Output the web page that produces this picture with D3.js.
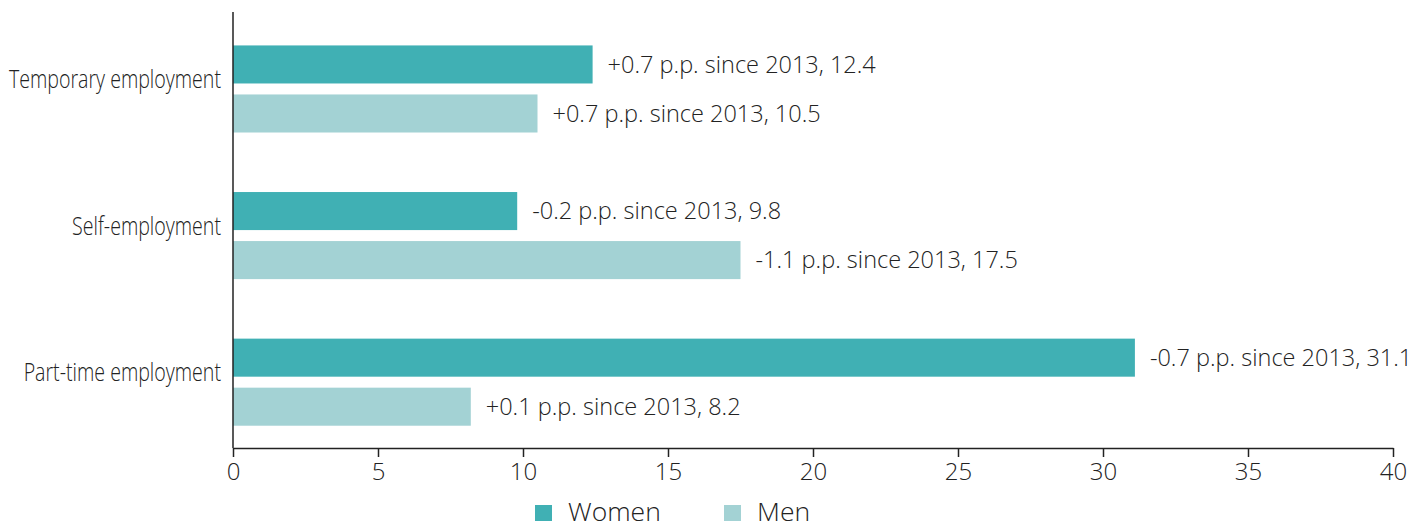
<!DOCTYPE html>
<html>
<head>
<meta charset="utf-8">
<script src="https://cdn.jsdelivr.net/npm/d3@7"></script>
<style>
  body { margin: 0; background: #fff; }
  text { font-family: "Open Sans", sans-serif; fill: #222; }
</style>
</head>
<body>
<div id="chart"></div>
<script>
var categories = ["Temporary employment", "Self-employment", "Part-time employment"];
var seriesNames = ["Women", "Men"];
var womenValues = [12.4, 9.8, 31.1];
var menValues = [10.5, 17.5, 8.2];
var womenChange = ["+0.7", "-0.2", "-0.7"];
var menChange = ["+0.7", "-1.1", "+0.1"];
var xTicks = [0, 5, 10, 15, 20, 25, 30, 35, 40];

var svgWidth = 1418;
var svgHeight = 521;
var margin = { top: 12, right: 25, bottom: 73, left: 233 };
var width = svgWidth - margin.left - margin.right;
var height = svgHeight - margin.top - margin.bottom;

var colors = { Women: "#40b0b4", Men: "#a3d2d4" };

var svg = d3.select("#chart")
    .append("svg")
    .attr("width", svgWidth)
    .attr("height", svgHeight);

var chartGroup = svg.append("g")
    .attr("transform", `translate(${margin.left}, ${margin.top})`);

// Scales
var xScale = d3.scaleLinear().domain([0, 40]).range([0, width]);

var yScale = d3.scaleBand()
    .domain(categories)
    .range([0, height])
    .paddingInner(0.406)
    .paddingOuter(0.19)
    .align(0.6);

var ySub = d3.scaleBand()
    .domain(seriesNames)
    .range([0, yScale.bandwidth()])
    .paddingInner(0.224);

// Build rows
var rows = [];
categories.forEach(function (c, i) {
    rows.push({ cat: c, series: "Women", value: womenValues[i], change: womenChange[i] });
    rows.push({ cat: c, series: "Men", value: menValues[i], change: menChange[i] });
});

// Bars
chartGroup.selectAll("rect.bar")
    .data(rows)
    .enter()
    .append("rect")
    .attr("class", "bar")
    .attr("x", 0)
    .attr("y", d => yScale(d.cat) + ySub(d.series))
    .attr("width", d => xScale(d.value))
    .attr("height", ySub.bandwidth())
    .attr("fill", d => colors[d.series]);

// Value labels
chartGroup.selectAll("text.val")
    .data(rows)
    .enter()
    .append("text")
    .attr("class", "val")
    .attr("x", d => xScale(d.value) + 15)
    .attr("y", d => yScale(d.cat) + ySub(d.series) + ySub.bandwidth() / 2)
    .attr("dy", "0.35em")
    .attr("font-size", "23.5px")
    .attr("font-weight", 300)
    .text(d => d.change + " p.p. since 2013, " + d.value);

// Category labels (condensed)
chartGroup.selectAll("text.cat")
    .data(categories)
    .enter()
    .append("text")
    .attr("class", "cat")
    .attr("transform", d => `translate(-12, ${yScale(d) + yScale.bandwidth() / 2 - 1}) scale(0.74, 1)`)
    .attr("text-anchor", "end")
    .attr("font-size", "26.5px")
    .attr("font-weight", 300)
    .text(d => d);

// Axes
var bottomAxis = d3.axisBottom(xScale)
    .tickValues(xTicks)
    .tickSize(9)
    .tickPadding(6)
    .tickSizeOuter(0);

var xAxisG = chartGroup.append("g")
    .attr("transform", `translate(0, ${height})`)
    .call(bottomAxis);
xAxisG.select(".domain").attr("stroke", "#222").attr("stroke-width", 1.5);
xAxisG.selectAll(".tick line").attr("stroke", "#222").attr("stroke-width", 1.5);
xAxisG.selectAll(".tick text")
    .attr("font-size", "24px")
    .attr("font-weight", 300)
    .attr("font-family", "Open Sans, sans-serif")
    .attr("fill", "#222");

chartGroup.append("line")
    .attr("x1", 0).attr("x2", 0)
    .attr("y1", 0).attr("y2", height)
    .attr("stroke", "#222")
    .attr("stroke-width", 1.5);

// Legend
var legend = svg.append("g")
    .attr("transform", "translate(535, 505)");

var legendItems = legend.selectAll("g")
    .data(seriesNames)
    .enter()
    .append("g")
    .attr("transform", (d, i) => `translate(${i * 189}, 0)`);

legendItems.append("rect")
    .attr("width", 17)
    .attr("height", 17)
    .attr("fill", d => colors[d]);

legendItems.append("text")
    .attr("x", 33)
    .attr("y", 7)
    .attr("dy", "0.35em")
    .attr("font-size", "26.5px")
    .attr("font-weight", 300)
    .text(d => d);
</script>
</body>
</html>
